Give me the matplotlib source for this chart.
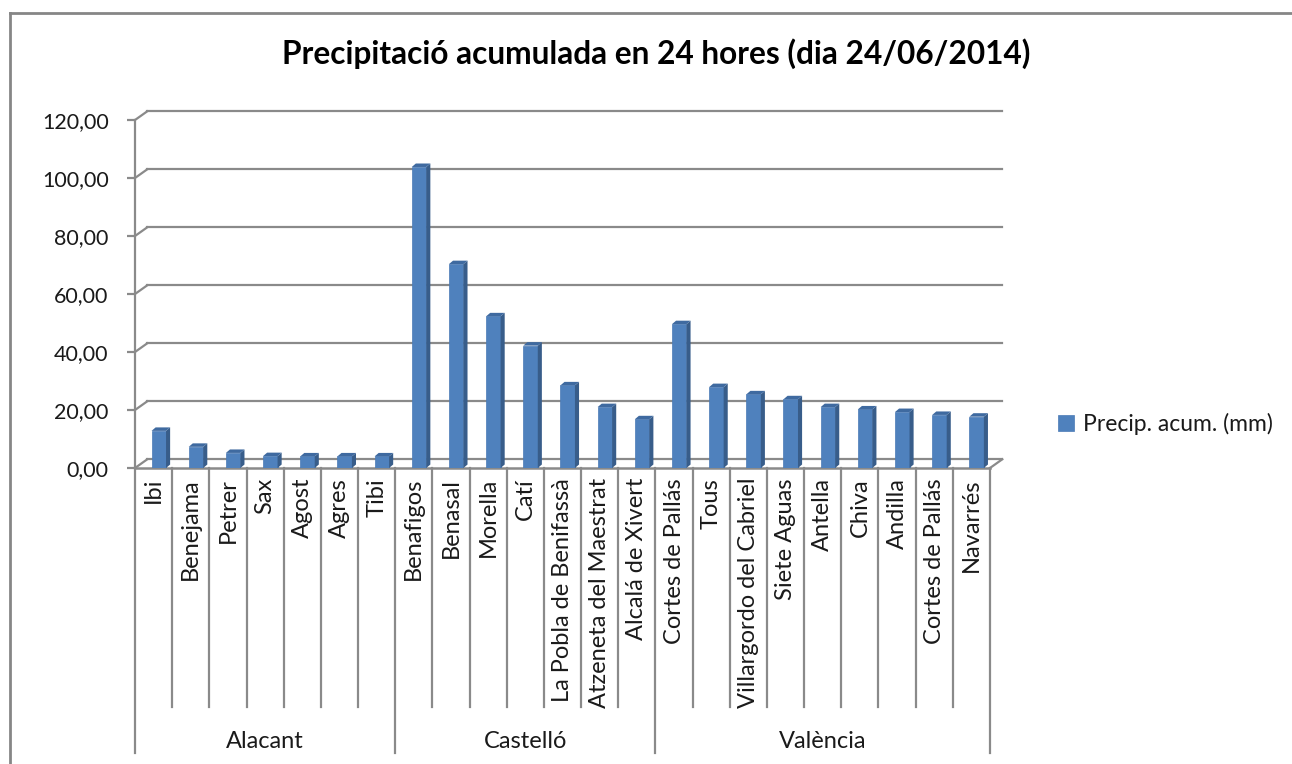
import matplotlib
matplotlib.use("Agg")
import matplotlib.pyplot as plt
from matplotlib.patches import Polygon
from matplotlib.transforms import blended_transform_factory
import numpy as np

plt.rcParams['font.family'] = ['Lato', 'DejaVu Sans']

# data
stations = ["Ibi", "Benejama", "Petrer", "Sax", "Agost", "Agres", "Tibi",
            "Benafigos", "Benasal", "Morella", "Catí", "La Pobla de Benifassà",
            "Atzeneta del Maestrat", "Alcalá de Xivert",
            "Cortes de Pallás", "Tous", "Villargordo del Cabriel", "Siete Aguas",
            "Antella", "Chiva", "Andilla", "Cortes de Pallás", "Navarrés"]
provinces = ["Alacant", "Castelló", "València"]
province_sizes = [7, 7, 9]
precip = [12.8, 7.3, 5.2, 4.1, 4.0, 4.0, 4.0,
          103.8, 70.3, 52.3, 42.2, 28.5, 21.0, 16.8,
          49.6, 27.9, 25.4, 23.7, 21.0, 20.2, 19.3, 18.3, 17.7]
yticks = [0, 20, 40, 60, 80, 100, 120]

W, H = 1292, 764
fig = plt.figure(figsize=(W / 100, H / 100), dpi=100)

# plot area in pixels (front plane)
left, right, top, zero = 135, 990, 120, 468
ax = fig.add_axes([left / W, 1 - zero / H, (right - left) / W, (zero - top) / H])
n = len(stations)
ax.set_xlim(-0.5, n - 0.5)
ax.set_ylim(0, 120)

grid_col = '#8a8a8a'
txt_col = '#1a1a1a'

# 3d offsets (in data units)
wall_dx, wall_dy = 0.33, 3.0
bar_dx, bar_dy = 0.11, 1.2
bar_off, bar_w = 0.14, 0.39

# back wall grid lines + connectors on the left side wall
for v in yticks:
    ax.plot([-0.5 + wall_dx, n - 0.5 + wall_dx], [v + wall_dy, v + wall_dy],
            color=grid_col, lw=1.6, clip_on=False, zorder=1)
    ax.plot([-0.5, -0.5 + wall_dx], [v, v + wall_dy],
            color=grid_col, lw=1.6, clip_on=False, zorder=1)
# floor front edge and right connector
ax.plot([-0.5, n - 0.5], [0, 0], color=grid_col, lw=1.8, clip_on=False, zorder=1)
ax.plot([n - 0.5, n - 0.5 + wall_dx], [0, wall_dy], color=grid_col, lw=1.6,
        clip_on=False, zorder=1)

# bars: front face + side + top
x = np.arange(n)
ax.bar(x + bar_off, precip, width=bar_w, color='#4F81BD', edgecolor='#4a7ab5',
       linewidth=0.5, zorder=3, label='Precip. acum. (mm)')
for xi, v in zip(x, precip):
    x0 = xi + bar_off - bar_w / 2
    x1 = xi + bar_off + bar_w / 2
    side = Polygon([(x1, 0), (x1 + bar_dx, bar_dy), (x1 + bar_dx, v + bar_dy), (x1, v)],
                   closed=True, facecolor='#385D8A', edgecolor='none', zorder=3,
                   clip_on=False)
    topf = Polygon([(x0, v), (x0 + bar_dx, v + bar_dy), (x1 + bar_dx, v + bar_dy), (x1, v)],
                   closed=True, facecolor='#3F6AA0', edgecolor='none', zorder=3,
                   clip_on=False)
    ax.add_patch(side)
    ax.add_patch(topf)

# y axis
for s in ['top', 'right', 'bottom']:
    ax.spines[s].set_visible(False)
ax.spines['left'].set_color(grid_col)
ax.spines['left'].set_linewidth(1.6)
ax.set_yticks(yticks)
ax.set_yticklabels([f"{v:.2f}".replace('.', ',') for v in yticks])
ax.tick_params(axis='y', length=6, width=1.6, color=grid_col, labelsize=15.5,
               labelcolor=txt_col, pad=13)
ax.set_xticks([])

# category axis (two levels)
tr = blended_transform_factory(ax.transData, fig.transFigure)
bounds = np.cumsum([0] + province_sizes)
for k in range(n + 1):
    y_end = 753 if k in bounds else 707
    ax.plot([k - 0.5, k - 0.5], [1 - zero / H, 1 - y_end / H], transform=tr,
            color=grid_col, lw=1.6, clip_on=False)
for xi, name in zip(x, stations):
    ax.text(xi, 1 - 478 / H, name, transform=tr, rotation=90, ha='center', va='top',
            fontsize=17, color=txt_col)
for p, a, b in zip(provinces, bounds[:-1], bounds[1:]):
    ax.text((a + b - 1) / 2, 1 - 741 / H, p, transform=tr, ha='center', va='center',
            fontsize=17, color=txt_col)

# title
fig.text(656 / W, 1 - 54 / H, 'Precipitació acumulada en 24 hores (dia 24/06/2014)',
         ha='center', va='center', fontsize=22.8, fontweight='bold', color='#000000')

# legend
fig.legend(loc='center left', bbox_to_anchor=(1037 / W, 1 - 424 / H), frameon=False,
           fontsize=16.5, handlelength=0.7, handleheight=0.7, handletextpad=0.4,
           labelcolor=txt_col)

# chart border (left and top visible)
fig.add_artist(plt.Line2D([10 / W, 10 / W], [0, 1 - 13 / H], transform=fig.transFigure,
                          color='#868686', lw=2))
fig.add_artist(plt.Line2D([10 / W, 1], [1 - 13 / H, 1 - 13 / H], transform=fig.transFigure,
                          color='#868686', lw=2))

fig.savefig('out.png', dpi=100)
